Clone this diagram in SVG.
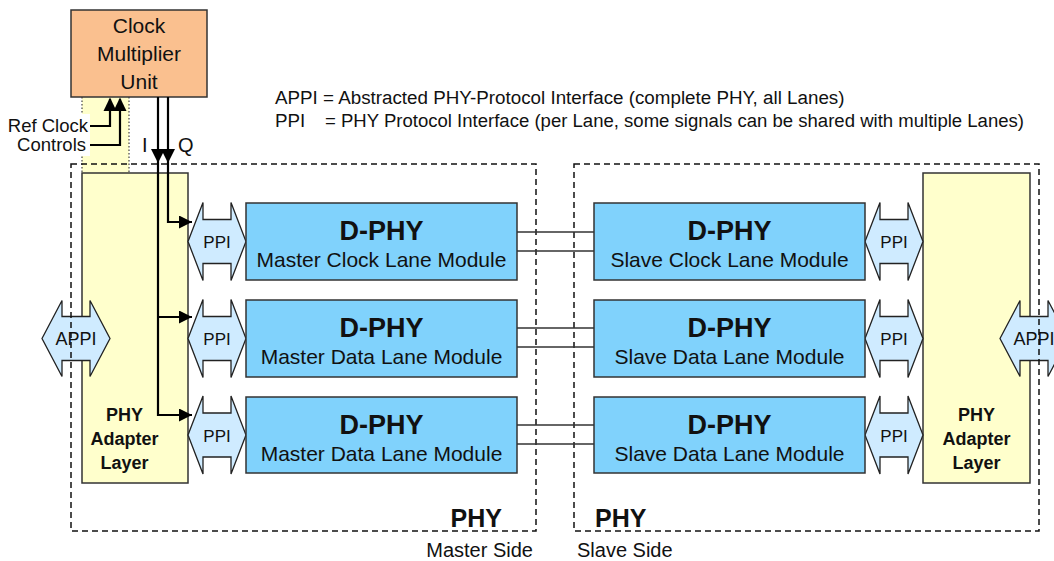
<svg xmlns="http://www.w3.org/2000/svg" width="1054" height="561" viewBox="0 0 1054 561">
<style>
text{font-family:"Liberation Sans",Arial,sans-serif;fill:#111}
.box{stroke:#333;stroke-width:1.5}
.cmu{fill:#FAC08F}
.yel{fill:#FFFFCC}
.mod{fill:#80D2FC}
.ppi{fill:#CFEBFF;stroke:#222;stroke-width:1.3}
.dash{fill:none;stroke:#111;stroke-width:1.5;stroke-dasharray:6 4}
.dot{fill:none;stroke:#444;stroke-width:1.2;stroke-dasharray:1.5 2}
.wire{fill:none;stroke:#000;stroke-width:2.2}
.link{fill:none;stroke:#333;stroke-width:1.5}
.t21{font-size:21px;text-anchor:middle}
.dphy{font-size:27px;font-weight:bold;text-anchor:middle}
.lbl{font-size:17px;text-anchor:middle}
.pal{font-size:18px;font-weight:bold;text-anchor:middle}
</style>
<defs>
<polygon id="ppiShape" points="-29,0 -14,-39 -14,-22 14,-22 14,-39 29,0 14,39 14,22 -14,22 -14,39"/>
<polygon id="appiShape" points="-34,0 -14,-38 -14,-22 14,-22 14,-38 34,0 14,38 14,22 -14,22 -14,38"/>
<marker id="ah" viewBox="0 0 10 10" refX="10" refY="5" markerWidth="13" markerHeight="13" markerUnits="userSpaceOnUse" orient="auto">
<path d="M0,0 L10,5 L0,10 z" fill="#000"/>
</marker>
</defs>
<rect width="1054" height="561" fill="#fff"/>

<g id="refshade">
<rect x="82" y="97" width="47" height="76" class="yel"/>
<line x1="82" y1="97" x2="82" y2="173" class="dot"/>
<line x1="129" y1="97" x2="129" y2="173" class="dot"/>
</g>

<g id="pal-left">
<rect x="82" y="173" width="106" height="310" class="box yel"/>
<text class="pal" x="124.5" y="421">PHY</text>
<text class="pal" x="124.5" y="445">Adapter</text>
<text class="pal" x="124.5" y="469">Layer</text>
</g>
<g id="pal-right">
<rect x="923" y="173" width="107" height="310" class="box yel"/>
<text class="pal" x="976.5" y="421">PHY</text>
<text class="pal" x="976.5" y="445">Adapter</text>
<text class="pal" x="976.5" y="469">Layer</text>
</g>

<g id="appi-left">
<use href="#appiShape" x="76" y="338.5" class="ppi"/>
<text class="lbl" x="76" y="345" style="font-size:18px">APPI</text>
</g>
<g id="appi-right">
<use href="#appiShape" x="1034" y="338.5" class="ppi"/>
<text class="lbl" x="1034" y="345" style="font-size:18px">APPI</text>
</g>

<g id="phy-master">
<rect x="71" y="164" width="465" height="367" class="dash"/>
<text x="502" y="527" style="font-size:25px;font-weight:bold;text-anchor:end">PHY</text>
<text x="533" y="557" style="font-size:20px;text-anchor:end">Master Side</text>
</g>
<g id="phy-slave">
<rect x="574" y="164" width="465" height="367" class="dash"/>
<text x="595" y="527" style="font-size:25px;font-weight:bold">PHY</text>
<text x="577" y="557" style="font-size:20px">Slave Side</text>
</g>

<g id="cmu">
<rect x="71" y="10" width="136" height="87" class="box cmu"/>
<text class="t21" x="139" y="33">Clock</text>
<text class="t21" x="139" y="61">Multiplier</text>
<text class="t21" x="139" y="89">Unit</text>
</g>

<g id="refclk-label">
<rect x="7" y="114" width="83" height="42" fill="#fff"/>
<text x="88" y="132" style="font-size:18.5px;text-anchor:end">Ref Clock</text>
<text x="86" y="151" style="font-size:18.5px;text-anchor:end">Controls</text>
</g>

<g id="ppi-m1"><use href="#ppiShape" x="217" y="241.5" class="ppi"/><text class="lbl" x="217" y="248">PPI</text></g>
<g id="ppi-m2"><use href="#ppiShape" x="217" y="338.5" class="ppi"/><text class="lbl" x="217" y="345">PPI</text></g>
<g id="ppi-m3"><use href="#ppiShape" x="217" y="435" class="ppi"/><text class="lbl" x="217" y="441.5">PPI</text></g>
<g id="ppi-s1"><use href="#ppiShape" x="894" y="241.5" class="ppi"/><text class="lbl" x="894" y="248">PPI</text></g>
<g id="ppi-s2"><use href="#ppiShape" x="894" y="338.5" class="ppi"/><text class="lbl" x="894" y="345">PPI</text></g>
<g id="ppi-s3"><use href="#ppiShape" x="894" y="435" class="ppi"/><text class="lbl" x="894" y="441.5">PPI</text></g>

<g id="mod-m1"><rect x="246" y="203" width="271" height="77" class="box mod"/><text class="dphy" x="381.5" y="239.5">D-PHY</text><text class="t21" x="381.5" y="267">Master Clock Lane Module</text></g>
<g id="mod-m2"><rect x="246" y="300" width="271" height="77" class="box mod"/><text class="dphy" x="381.5" y="336.5">D-PHY</text><text class="t21" x="381.5" y="364">Master Data Lane Module</text></g>
<g id="mod-m3"><rect x="246" y="397" width="271" height="76" class="box mod"/><text class="dphy" x="381.5" y="433.5">D-PHY</text><text class="t21" x="381.5" y="461">Master Data Lane Module</text></g>
<g id="mod-s1"><rect x="594" y="203" width="271" height="77" class="box mod"/><text class="dphy" x="729.5" y="239.5">D-PHY</text><text class="t21" x="729.5" y="267">Slave Clock Lane Module</text></g>
<g id="mod-s2"><rect x="594" y="300" width="271" height="77" class="box mod"/><text class="dphy" x="729.5" y="336.5">D-PHY</text><text class="t21" x="729.5" y="364">Slave Data Lane Module</text></g>
<g id="mod-s3"><rect x="594" y="397" width="271" height="76" class="box mod"/><text class="dphy" x="729.5" y="433.5">D-PHY</text><text class="t21" x="729.5" y="461">Slave Data Lane Module</text></g>

<g id="connectors">
<line x1="517" y1="232" x2="594" y2="232" class="link"/>
<line x1="517" y1="251" x2="594" y2="251" class="link"/>
<line x1="517" y1="328" x2="594" y2="328" class="link"/>
<line x1="517" y1="347" x2="594" y2="347" class="link"/>
<line x1="517" y1="425" x2="594" y2="425" class="link"/>
<line x1="517" y1="444" x2="594" y2="444" class="link"/>
<path d="M158,97 V415 H192" class="wire" marker-end="url(#ah)"/>
<path d="M158,317 H192" class="wire" marker-end="url(#ah)"/>
<path d="M168,97 V222 H192" class="wire" marker-end="url(#ah)"/>
<polygon points="151,149 165,149 158,163" fill="#000"/>
<polygon points="161,149 175,149 168,163" fill="#000"/>
<path d="M90,126 H110 V99" class="wire"/>
<path d="M90,145 H120 V99" class="wire"/>
<polygon points="103.5,111 116.5,111 110,97.5" fill="#000"/>
<polygon points="113.5,111 126.5,111 120,97.5" fill="#000"/>
</g>

<text x="142" y="152" style="font-size:20px">I</text>
<text x="178" y="152" style="font-size:20px">Q</text>

<g id="legend" style="font-size:18.8px">
<text x="275" y="104">APPI = Abstracted PHY-Protocol Interface (complete PHY, all Lanes)</text>
<text x="275" y="127">PPI</text>
<text x="325" y="127" textLength="699" lengthAdjust="spacingAndGlyphs">= PHY Protocol Interface (per Lane, some signals can be shared with multiple Lanes)</text>
</g>
</svg>
